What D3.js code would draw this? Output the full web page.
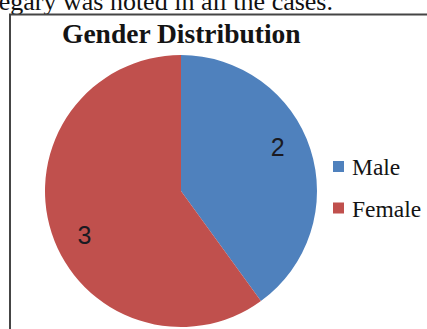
<!DOCTYPE html>
<html>
<head>
<meta charset="utf-8">
<script src="https://cdn.jsdelivr.net/npm/d3@7"></script>
<style>
  html, body { margin: 0; padding: 0; background: #fff; }
  svg { display: block; }
</style>
</head>
<body>
<svg id="chart" width="427" height="329"></svg>
<script>
// Gender distribution of the cases
const categories = ["Male", "Female"];
const counts = [2, 3];
const colors = ["#4F81BD", "#C0504D"];
const title = "Gender Distribution";
const leadText = "egary was noted in all the cases.";

const svg = d3.select("#chart");

// running body text above the figure
svg.append("text")
  .attr("x", 333).attr("y", 10)
  .attr("text-anchor", "end")
  .attr("font-family", "'Liberation Serif', 'Times New Roman', serif")
  .attr("font-size", 26)
  .attr("fill", "#111")
  .text(leadText);

// figure frame
svg.append("rect")
  .attr("x", 10).attr("y", 14.5)
  .attr("width", 500).attr("height", 400)
  .attr("fill", "#fff")
  .attr("stroke", "#454545")
  .attr("stroke-width", 2);

// chart title
svg.append("text")
  .attr("x", 62).attr("y", 43)
  .attr("font-family", "'Liberation Serif', 'Times New Roman', serif")
  .attr("font-weight", "bold")
  .attr("font-size", 27.5)
  .attr("fill", "#141414")
  .text(title);

// pie
const cx = 181, cy = 191, radius = 136;
const data = categories.map((c, i) => ({ name: c, value: counts[i], color: colors[i] }));
const pie = d3.pie().value(d => d.value).sort(null);
const arcs = pie(data);
const arc = d3.arc().innerRadius(0).outerRadius(radius);
const labelArc = d3.arc().innerRadius(106).outerRadius(106);
const labelTurn = -0.11; // small counter-clockwise nudge for the value labels

const g = svg.append("g").attr("transform", `translate(${cx},${cy})`);
g.selectAll("path.slice")
  .data(arcs)
  .join("path")
  .attr("class", "slice")
  .attr("d", arc)
  .attr("fill", d => d.data.color);

g.selectAll("text.value")
  .data(arcs)
  .join("text")
  .attr("class", "value")
  .attr("transform", d => {
    const [x, y] = labelArc.centroid({ startAngle: d.startAngle + labelTurn, endAngle: d.endAngle + labelTurn });
    return `translate(${x},${y})`;
  })
  .attr("text-anchor", "middle")
  .attr("dy", "0.36em")
  .attr("font-family", "'Liberation Sans', Arial, sans-serif")
  .attr("font-size", 25)
  .attr("fill", "#1a1a22")
  .text(d => d.data.value);

// legend
const legend = svg.append("g").attr("transform", "translate(333,161)");
const item = legend.selectAll("g")
  .data(data)
  .join("g")
  .attr("transform", (d, i) => `translate(0,${i * 41.5})`);
item.append("rect")
  .attr("width", 11).attr("height", 11)
  .attr("fill", d => d.color);
item.append("text")
  .attr("x", 19).attr("y", 14)
  .attr("font-family", "'Liberation Serif', 'Times New Roman', serif")
  .attr("font-size", 23.5)
  .attr("fill", "#141414")
  .text(d => d.name);
</script>
</body>
</html>
